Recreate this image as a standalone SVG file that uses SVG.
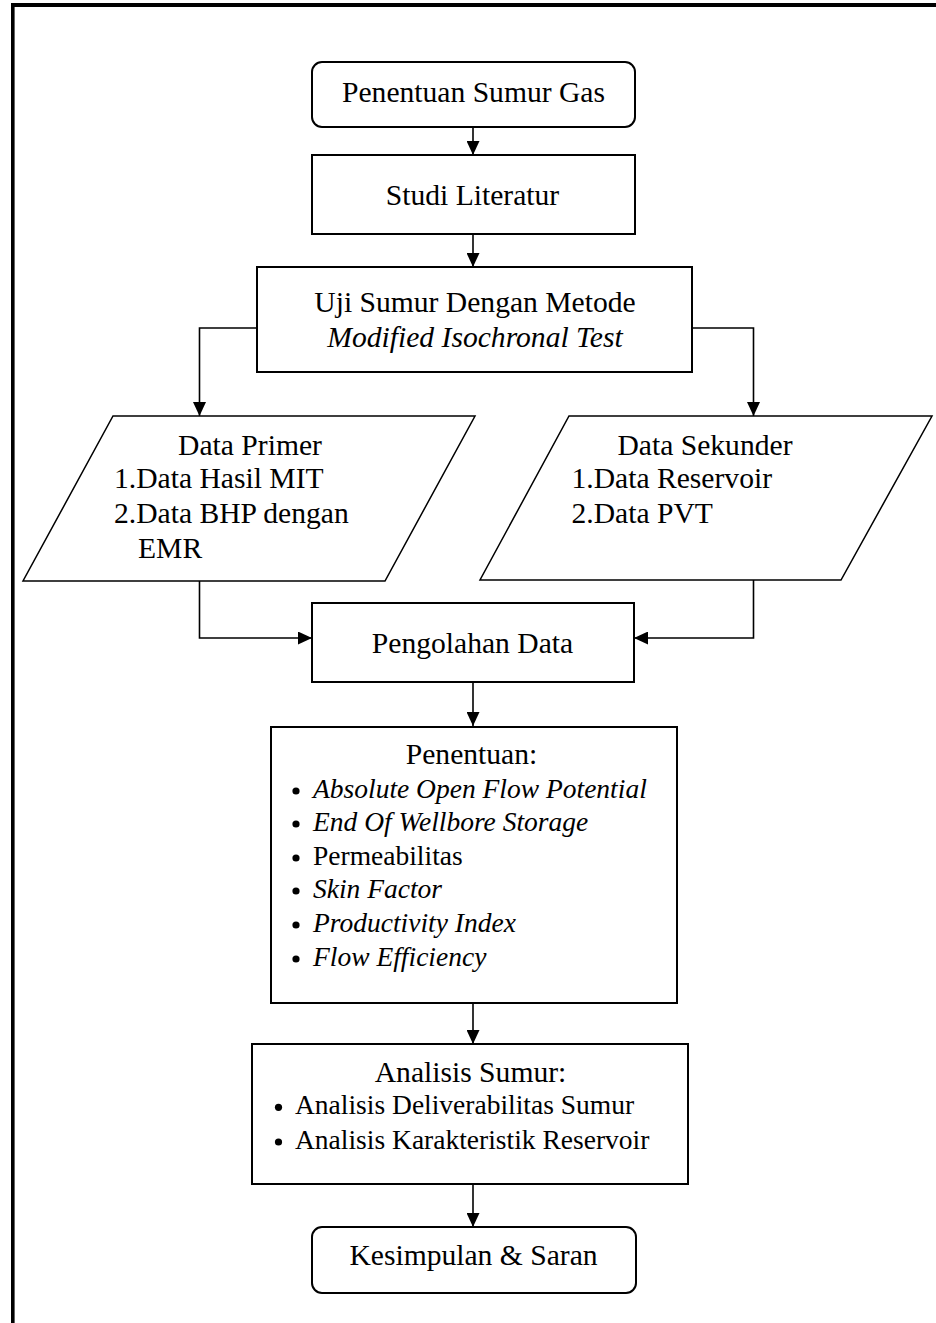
<svg xmlns="http://www.w3.org/2000/svg" width="936" height="1323" viewBox="0 0 936 1323">
<style>
.t{font-family:"Liberation Serif","Times New Roman",serif;font-size:29.6px;fill:#000}
.b{font-family:"Liberation Serif","Times New Roman",serif;font-size:27.5px;fill:#000}
.i{font-style:italic}
.c{text-anchor:middle}
.box{fill:#fff;stroke:#000;stroke-width:2}
.par{fill:#fff;stroke:#000;stroke-width:1.5}
.ln{fill:none;stroke:#000;stroke-width:1.6}
.dot{fill:#000}
</style>
<defs>
<marker id="ah" markerWidth="14" markerHeight="13" refX="14" refY="6.5" orient="auto" markerUnits="userSpaceOnUse">
<path d="M0,0 L14,6.5 L0,13 Z" fill="#000"/>
</marker>
</defs>
<rect width="936" height="1323" fill="#fff"/>
<g id="frame">
<rect x="11" y="3" width="925" height="4" fill="#000"/>
<rect x="11" y="3" width="3.6" height="1320" fill="#000"/>
</g>
<g id="connectors">
<line class="ln" x1="473" y1="127" x2="473" y2="155" marker-end="url(#ah)"/>
<line class="ln" x1="473" y1="234" x2="473" y2="267" marker-end="url(#ah)"/>
<polyline class="ln" points="257,328 199.5,328 199.5,416" marker-end="url(#ah)"/>
<polyline class="ln" points="692,328 753.5,328 753.5,416" marker-end="url(#ah)"/>
<polyline class="ln" points="199.5,581 199.5,638 312,638" marker-end="url(#ah)"/>
<polyline class="ln" points="753.5,580 753.5,638 634,638" marker-end="url(#ah)"/>
<line class="ln" x1="473" y1="682" x2="473" y2="726" marker-end="url(#ah)"/>
<line class="ln" x1="473" y1="1003" x2="473" y2="1044" marker-end="url(#ah)"/>
<line class="ln" x1="473" y1="1184" x2="473" y2="1227" marker-end="url(#ah)"/>
</g>
<g id="n1">
<rect class="box" x="312" y="62" width="323" height="65" rx="10"/>
<text class="t c" x="473.5" y="102">Penentuan Sumur Gas</text>
</g>
<g id="n2">
<rect class="box" x="312" y="155" width="323" height="79"/>
<text class="t c" x="472.5" y="205">Studi Literatur</text>
</g>
<g id="n3">
<rect class="box" x="257" y="267" width="435" height="105"/>
<text class="t c" x="475" y="312">Uji Sumur Dengan Metode</text>
<text class="t c i" x="475" y="347">Modified Isochronal Test</text>
</g>
<g id="n4">
<polygon class="par" points="113,416 475,416 385,581 23,581"/>
<text class="t c" x="250" y="455">Data Primer</text>
<text class="t" x="114" y="488">1.Data Hasil MIT</text>
<text class="t" x="114" y="523">2.Data BHP dengan</text>
<text class="t" x="138" y="558">EMR</text>
</g>
<g id="n5">
<polygon class="par" points="569,416 932,416 841,580 480,580"/>
<text class="t c" x="705" y="455">Data Sekunder</text>
<text class="t" x="571.5" y="488">1.Data Reservoir</text>
<text class="t" x="571.5" y="523">2.Data PVT</text>
</g>
<g id="n6">
<rect class="box" x="312" y="603" width="322" height="79"/>
<text class="t c" x="472.5" y="653">Pengolahan Data</text>
</g>
<g id="n7">
<rect class="box" x="271" y="727" width="406" height="276"/>
<text class="t c" x="471.5" y="764">Penentuan:</text>
<circle class="dot" cx="296" cy="791" r="3.6"/>
<text class="b i" x="313" y="798">Absolute Open Flow Potential</text>
<circle class="dot" cx="296" cy="824" r="3.6"/>
<text class="b i" x="313" y="831">End Of Wellbore Storage</text>
<circle class="dot" cx="296" cy="858" r="3.6"/>
<text class="b" x="313" y="865">Permeabilitas</text>
<circle class="dot" cx="296" cy="891" r="3.6"/>
<text class="b i" x="313" y="898">Skin Factor</text>
<circle class="dot" cx="296" cy="925" r="3.6"/>
<text class="b i" x="313" y="932">Productivity Index</text>
<circle class="dot" cx="296" cy="959" r="3.6"/>
<text class="b i" x="313" y="966">Flow Efficiency</text>
</g>
<g id="n8">
<rect class="box" x="252" y="1044" width="436" height="140"/>
<text class="t c" x="470.5" y="1082">Analisis Sumur:</text>
<circle class="dot" cx="278.5" cy="1107.3" r="3.6"/>
<text class="b" x="295" y="1114">Analisis Deliverabilitas Sumur</text>
<circle class="dot" cx="278.5" cy="1142" r="3.6"/>
<text class="b" x="295" y="1149">Analisis Karakteristik Reservoir</text>
</g>
<g id="n9">
<rect class="box" x="312" y="1227" width="324" height="66" rx="10"/>
<text class="t c" x="473.5" y="1265">Kesimpulan &amp; Saran</text>
</g>
</svg>
